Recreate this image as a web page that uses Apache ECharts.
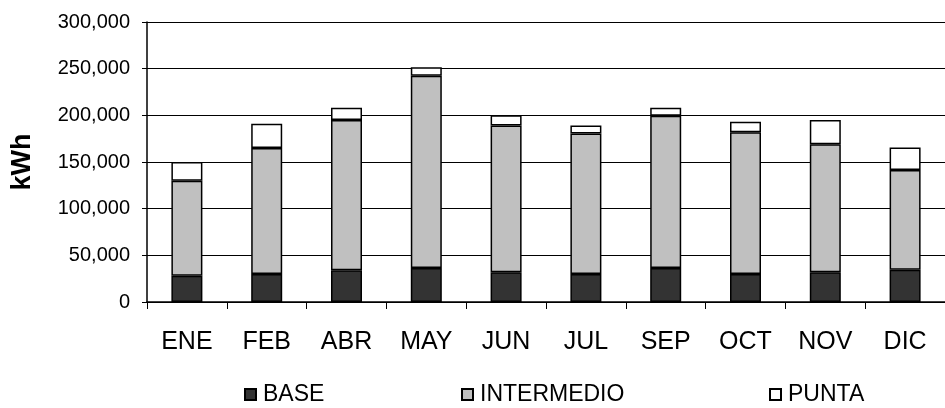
<!DOCTYPE html>
<html>
<head>
<meta charset="utf-8">
<script src="https://cdn.jsdelivr.net/npm/echarts@6/dist/echarts.min.js"></script>
<style>
html,body{margin:0;padding:0;background:#fff;}
#c{width:945px;height:408px;}
</style>
</head>
<body>
<div id="c"></div>
<script>
const categories = ['ENE','FEB','ABR','MAY','JUN','JUL','SEP','OCT','NOV','DIC'];
const base = [28000, 30000, 34000, 36500, 32000, 30000, 36500, 30000, 32000, 34500];
const intermedio = [102000, 135000, 161000, 206000, 157000, 150500, 163000, 152000, 137000, 107000];
const punta = [20000, 26000, 13000, 9000, 11000, 8500, 8500, 11000, 26000, 24000];
const yTicks = {min: 0, max: 300000, interval: 50000};
const seriesNames = ['BASE', 'INTERMEDIO', 'PUNTA'];

const font = 'Liberation Sans, Arial, sans-serif';
function fmt(v){ return String(v).replace(/\B(?=(\d{3})+(?!\d))/g, ','); }

const chart = echarts.init(document.getElementById('c'), null, {renderer: 'canvas'});
const colors = ['#333333', '#c0c0c0', '#ffffff'];
const datasets = [base, intermedio, punta];
const legendLefts = [239, 456, 764];

chart.setOption({
  animation: false,
  backgroundColor: '#ffffff',
  grid: {left: 147, right: -8, top: 22, bottom: 106, containLabel: false},
  legend: seriesNames.map((n, i) => ({
    data: [n], left: legendLefts[i], top: 378, itemWidth: 11, itemHeight: 11, itemGap: 0,
    icon: 'rect', selectedMode: false,
    textStyle: {fontFamily: font, fontSize: 23, color: '#000', padding: [0,0,0,2]}
  })),
  graphic: [{
    type: 'text', x: 23, y: 162, rotation: Math.PI / 2,
    style: {text: 'kWh', font: 'bold 27px ' + font, fill: '#000', textAlign: 'center', textVerticalAlign: 'middle'}
  }],
  xAxis: {
    type: 'category', data: categories,
    axisLine: {lineStyle: {color: '#000', width: 1.5}},
    axisTick: {show: true, length: 7, lineStyle: {color: '#000', width: 1}},
    axisLabel: {fontFamily: font, fontSize: 25, color: '#000', margin: 28, interval: 0}
  },
  yAxis: {
    type: 'value', min: yTicks.min, max: yTicks.max, interval: yTicks.interval,
    axisLine: {show: true, lineStyle: {color: '#000', width: 1.5}},
    axisTick: {show: true, length: 5, lineStyle: {color: '#000', width: 1}},
    axisLabel: {fontFamily: font, fontSize: 20, color: '#000', margin: 17, formatter: fmt},
    splitLine: {show: true, lineStyle: {color: '#000', width: 1}}
  },
  series: seriesNames.map((n, i) => ({
    name: n, type: 'bar', stack: 'total', data: datasets[i], barWidth: 31,
    itemStyle: {color: colors[i], borderColor: '#000', borderWidth: 1.5}
  }))
});
</script>
</body>
</html>
